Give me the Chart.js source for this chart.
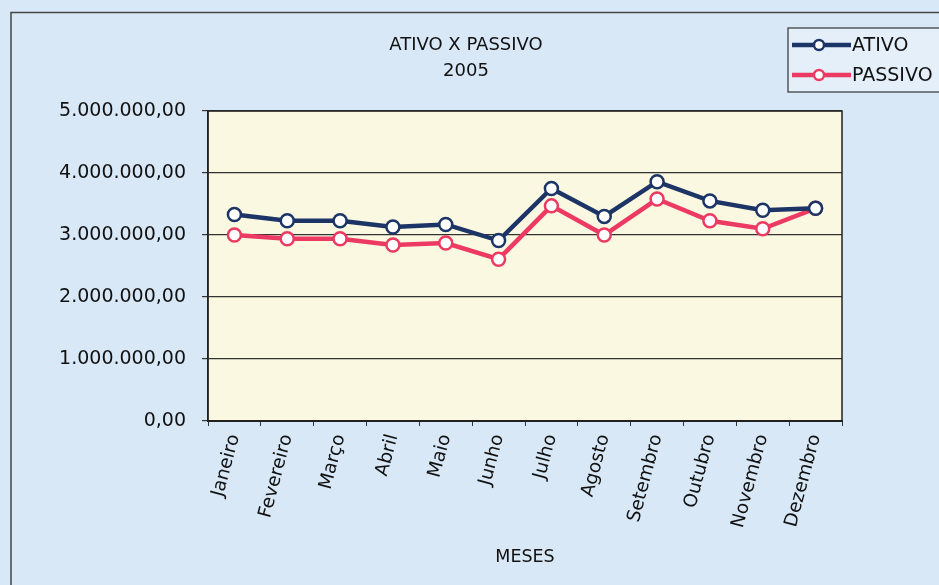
<!DOCTYPE html>
<html>
<head>
<meta charset="utf-8">
<script src="https://cdn.jsdelivr.net/npm/chart.js@4/dist/chart.umd.min.js"></script>
<style>
  html, body { margin: 0; padding: 0; background: #d9e8f6; }
  #wrap { position: relative; width: 939px; height: 585px; }
</style>
</head>
<body>
<div id="wrap"><canvas id="c" width="939" height="585"></canvas></div>
<script>
const meses = ['Janeiro','Fevereiro','Março','Abril','Maio','Junho','Julho','Agosto','Setembro','Outubro','Novembro','Dezembro'];
const ativo = [3330000, 3230000, 3230000, 3130000, 3170000, 2910000, 3750000, 3300000, 3860000, 3550000, 3400000, 3430000];
const passivo = [3000000, 2940000, 2940000, 2840000, 2870000, 2610000, 3470000, 3000000, 3580000, 3230000, 3100000, 3430000];
const yTicks = [0, 1000000, 2000000, 3000000, 4000000, 5000000];
const titulo = ['ATIVO X PASSIVO', '2005'];
const eixoX = 'MESES';

const FONT = 'DejaVu Sans';
const NAVY = '#1c3466';
const PINK = '#ec3a63';

function fmt(v) {
  return v.toLocaleString('pt-BR', {minimumFractionDigits: 2, maximumFractionDigits: 2});
}

const decor = {
  id: 'decor',
  beforeDraw(chart) {
    const ctx = chart.ctx, a = chart.chartArea;
    ctx.save();
    ctx.fillStyle = '#d9e8f6';
    ctx.fillRect(0, 0, chart.width, chart.height);
    ctx.fillStyle = '#fbf8e2';
    ctx.fillRect(a.left, a.top, a.right - a.left, a.bottom - a.top);
    // outer frame
    ctx.strokeStyle = '#444';
    ctx.lineWidth = 1.5;
    ctx.beginPath();
    ctx.moveTo(11, chart.height);
    ctx.lineTo(11, 12.5);
    ctx.lineTo(chart.width, 12.5);
    ctx.stroke();
    // title
    ctx.fillStyle = '#111';
    ctx.font = '18px "' + FONT + '"';
    ctx.textAlign = 'center';
    ctx.textBaseline = 'middle';
    ctx.fillText(titulo[0], 466, 45);
    ctx.fillText(titulo[1], 466, 71);
    ctx.restore();
  },
  afterDraw(chart) {
    const ctx = chart.ctx, a = chart.chartArea;
    ctx.save();
    // plot border
    ctx.strokeStyle = '#222';
    ctx.lineWidth = 1.5;
    ctx.strokeRect(a.left, a.top, a.right - a.left, a.bottom - a.top);
    // legend
    const bx = 788, by = 28, bw = 160, bh = 64;
    ctx.fillStyle = '#ffffff';
    ctx.globalAlpha = 0.3;
    ctx.fillRect(bx, by, bw, bh);
    ctx.globalAlpha = 1;
    ctx.strokeStyle = '#333';
    ctx.lineWidth = 1.2;
    ctx.strokeRect(bx, by, bw, bh);
    const items = chart.data.datasets;
    items.forEach((ds, i) => {
      const y = by + 17 + i * 30;
      ctx.strokeStyle = ds.borderColor;
      ctx.lineWidth = 4.5;
      ctx.beginPath();
      ctx.moveTo(792, y);
      ctx.lineTo(851, y);
      ctx.stroke();
      ctx.beginPath();
      ctx.arc(819, y, 5, 0, Math.PI * 2);
      ctx.fillStyle = '#fff';
      ctx.fill();
      ctx.lineWidth = 2.5;
      ctx.stroke();
      ctx.fillStyle = '#111';
      ctx.font = '19px "' + FONT + '"';
      ctx.textBaseline = 'middle';
      ctx.textAlign = 'left';
      ctx.fillText(ds.label, 852, y + 1);
    });
    ctx.restore();
  }
};

new Chart(document.getElementById('c'), {
  type: 'line',
  data: {
    labels: meses,
    datasets: [
      { label: 'ATIVO', data: ativo, borderColor: NAVY, backgroundColor: '#fff',
        borderWidth: 4.5, pointRadius: 6.5, pointBorderWidth: 2.5, pointBackgroundColor: '#fff',
        pointBorderColor: NAVY, tension: 0 },
      { label: 'PASSIVO', data: passivo, borderColor: PINK, backgroundColor: '#fff',
        borderWidth: 4.5, pointRadius: 6.5, pointBorderWidth: 2.5, pointBackgroundColor: '#fff',
        pointBorderColor: PINK, tension: 0 }
    ]
  },
  options: {
    responsive: false,
    animation: false,
    layout: { padding: { left: 0, right: 97, top: 111, bottom: 0 } },
    plugins: {
      legend: { display: false },
      tooltip: { enabled: false },
      title: { display: false }
    },
    scales: {
      x: {
        offset: true,
        grid: { display: true, drawOnChartArea: false, offset: true, tickLength: 5, color: '#333' },
        border: { display: true, color: '#222', width: 2 },
        ticks: {
          color: '#111', minRotation: 75, maxRotation: 75, padding: 6, autoSkip: false,
          font: { family: FONT, size: 18.5 }
        },
        title: { display: true, text: eixoX, color: '#111',
          font: { family: FONT, size: 17.5 }, padding: { top: 4, bottom: 17 } },
        afterFit(s) { s.height = 164; }
      },
      y: {
        min: 0, max: 5000000,
        afterBuildTicks(s) { s.ticks = yTicks.map(v => ({ value: v })); },
        grid: { color: '#333', lineWidth: 1.2, tickLength: 6 },
        border: { display: true, color: '#222', width: 1.5 },
        ticks: { color: '#111', padding: 16, font: { family: FONT, size: 19 },
          callback: v => fmt(v) },
        afterFit(s) { s.width = 208; }
      }
    }
  },
  plugins: [decor]
});
</script>
</body>
</html>
